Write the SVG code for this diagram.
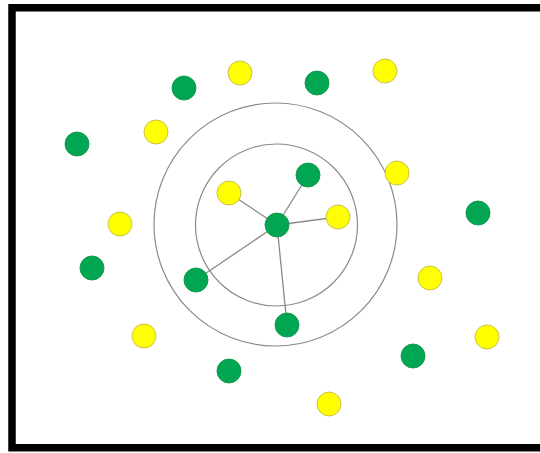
<svg xmlns="http://www.w3.org/2000/svg" width="540" height="453" viewBox="0 0 540 453">
<style>
.g{fill:#00a651;stroke:#1a9a50;stroke-width:1}
.y{fill:#ffff00;stroke:#c9c24a;stroke-width:1}
.ring{fill:none;stroke:#8a8a8a;stroke-width:1.2}
.e{stroke:#8a8a8a;stroke-width:1.3}
</style>
<rect x="0" y="0" width="540" height="453" fill="#fff"/>
<rect x="12" y="7.75" width="540" height="440" fill="none" stroke="#000" stroke-width="7.5"/>
<g id="rings">
<circle class="ring" cx="275.5" cy="224.5" r="121.5"/>
<circle class="ring" cx="276.5" cy="225" r="81"/>
</g>
<g id="connectors">
<line class="e" x1="277" y1="225" x2="229" y2="193"/>
<line class="e" x1="277" y1="225" x2="308" y2="175"/>
<line class="e" x1="277" y1="225" x2="338" y2="217"/>
<line class="e" x1="277" y1="225" x2="196" y2="280"/>
<line class="e" x1="277" y1="225" x2="287" y2="325"/>
</g>
<g id="n-center"><circle class="g" cx="277" cy="225" r="12"/></g>
<g id="g1"><circle class="g" cx="184" cy="88" r="12"/></g>
<g id="g2"><circle class="g" cx="317" cy="83" r="12"/></g>
<g id="g3"><circle class="g" cx="77" cy="144" r="12"/></g>
<g id="g4"><circle class="g" cx="308" cy="175" r="12"/></g>
<g id="g5"><circle class="g" cx="478" cy="213" r="12"/></g>
<g id="g6"><circle class="g" cx="92" cy="268" r="12"/></g>
<g id="g7"><circle class="g" cx="196" cy="280" r="12"/></g>
<g id="g8"><circle class="g" cx="287" cy="325" r="12"/></g>
<g id="g9"><circle class="g" cx="413" cy="356" r="12"/></g>
<g id="g10"><circle class="g" cx="229" cy="371" r="12"/></g>
<g id="y1"><circle class="y" cx="240" cy="73" r="12"/></g>
<g id="y2"><circle class="y" cx="385" cy="71" r="12"/></g>
<g id="y3"><circle class="y" cx="156" cy="132" r="12"/></g>
<g id="y4"><circle class="y" cx="397" cy="173" r="12"/></g>
<g id="y5"><circle class="y" cx="229" cy="193" r="12"/></g>
<g id="y6"><circle class="y" cx="338" cy="217" r="12"/></g>
<g id="y7"><circle class="y" cx="120" cy="224" r="12"/></g>
<g id="y8"><circle class="y" cx="430" cy="278" r="12"/></g>
<g id="y9"><circle class="y" cx="487" cy="337" r="12"/></g>
<g id="y10"><circle class="y" cx="144" cy="336" r="12"/></g>
<g id="y11"><circle class="y" cx="329" cy="404" r="12"/></g>
</svg>
